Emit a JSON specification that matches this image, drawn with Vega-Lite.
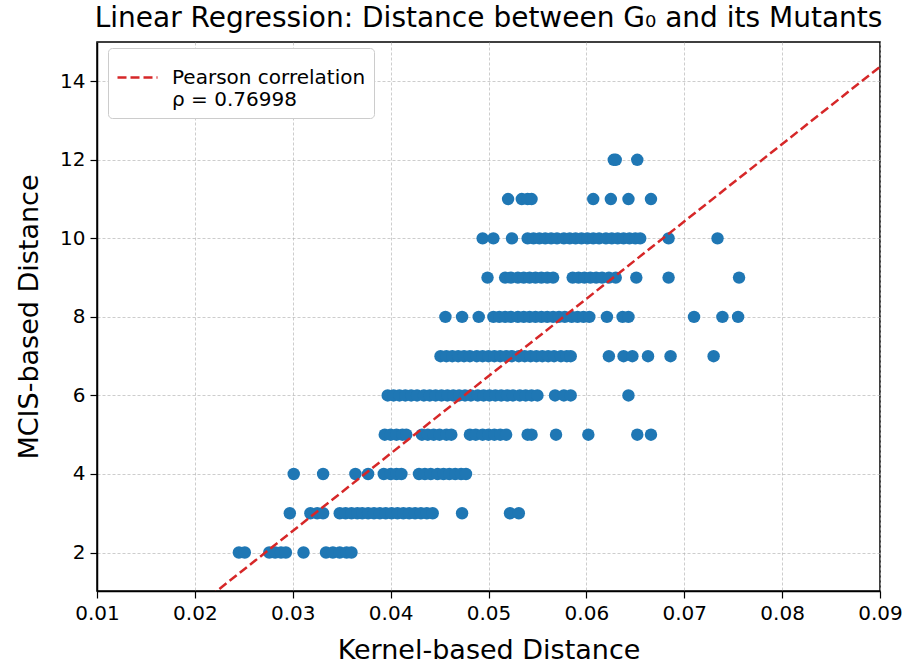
{
  "$schema": "https://vega.github.io/schema/vega-lite/v6.json",
  "width": 783,
  "height": 549,
  "autosize": {"type": "none"},
  "padding": {"left": 97, "top": 42, "right": 29, "bottom": 74},
  "background": "white",
  "title": {"text": "Linear Regression: Distance between G₀ and its Mutants", "font": "DejaVu Sans", "fontSize": 28, "fontWeight": "normal", "color": "black", "offset": 9},
  "config": {
    "view": {"stroke": "black", "strokeWidth": 1.5},
    "axis": {"labelFont": "DejaVu Sans", "labelFontSize": 20, "labelColor": "black", "labelFlush": false, "labelOverlap": false, "labelPadding": 5, "titleFont": "DejaVu Sans", "titleFontSize": 27, "titleFontWeight": "normal", "titleColor": "black", "domainColor": "black", "domainWidth": 1.5, "tickColor": "black", "tickSize": 7, "tickWidth": 1.2, "gridColor": "#b0b0b0", "gridDash": [3, 2], "gridWidth": 0.8, "gridOpacity": 0.8}
  },
  "datasets": {
    "points": [
      {"kernel": 0.0245, "mcis": 2}, {"kernel": 0.0251, "mcis": 2}, {"kernel": 0.0276, "mcis": 2}, {"kernel": 0.0282, "mcis": 2}, {"kernel": 0.0288, "mcis": 2}, {"kernel": 0.0293, "mcis": 2}, {"kernel": 0.0311, "mcis": 2}, {"kernel": 0.0334, "mcis": 2}, {"kernel": 0.0341, "mcis": 2}, {"kernel": 0.0348, "mcis": 2}, {"kernel": 0.0355, "mcis": 2}, {"kernel": 0.0360, "mcis": 2},
      {"kernel": 0.0297, "mcis": 3}, {"kernel": 0.0318, "mcis": 3}, {"kernel": 0.0325, "mcis": 3}, {"kernel": 0.0331, "mcis": 3}, {"kernel": 0.0348, "mcis": 3}, {"kernel": 0.0354, "mcis": 3}, {"kernel": 0.0360, "mcis": 3}, {"kernel": 0.0366, "mcis": 3}, {"kernel": 0.0371, "mcis": 3}, {"kernel": 0.0377, "mcis": 3}, {"kernel": 0.0383, "mcis": 3}, {"kernel": 0.0389, "mcis": 3}, {"kernel": 0.0395, "mcis": 3}, {"kernel": 0.0401, "mcis": 3}, {"kernel": 0.0407, "mcis": 3}, {"kernel": 0.0413, "mcis": 3}, {"kernel": 0.0419, "mcis": 3}, {"kernel": 0.0425, "mcis": 3}, {"kernel": 0.0431, "mcis": 3}, {"kernel": 0.0437, "mcis": 3}, {"kernel": 0.0443, "mcis": 3}, {"kernel": 0.0473, "mcis": 3}, {"kernel": 0.0522, "mcis": 3}, {"kernel": 0.0531, "mcis": 3},
      {"kernel": 0.0301, "mcis": 4}, {"kernel": 0.0331, "mcis": 4}, {"kernel": 0.0364, "mcis": 4}, {"kernel": 0.0377, "mcis": 4}, {"kernel": 0.0393, "mcis": 4}, {"kernel": 0.0400, "mcis": 4}, {"kernel": 0.0406, "mcis": 4}, {"kernel": 0.0411, "mcis": 4}, {"kernel": 0.0429, "mcis": 4}, {"kernel": 0.0435, "mcis": 4}, {"kernel": 0.0441, "mcis": 4}, {"kernel": 0.0448, "mcis": 4}, {"kernel": 0.0454, "mcis": 4}, {"kernel": 0.0460, "mcis": 4}, {"kernel": 0.0466, "mcis": 4}, {"kernel": 0.0472, "mcis": 4}, {"kernel": 0.0477, "mcis": 4},
      {"kernel": 0.0394, "mcis": 5}, {"kernel": 0.0400, "mcis": 5}, {"kernel": 0.0406, "mcis": 5}, {"kernel": 0.0412, "mcis": 5}, {"kernel": 0.0416, "mcis": 5}, {"kernel": 0.0432, "mcis": 5}, {"kernel": 0.0438, "mcis": 5}, {"kernel": 0.0444, "mcis": 5}, {"kernel": 0.0450, "mcis": 5}, {"kernel": 0.0457, "mcis": 5}, {"kernel": 0.0462, "mcis": 5}, {"kernel": 0.0481, "mcis": 5}, {"kernel": 0.0487, "mcis": 5}, {"kernel": 0.0494, "mcis": 5}, {"kernel": 0.0500, "mcis": 5}, {"kernel": 0.0506, "mcis": 5}, {"kernel": 0.0512, "mcis": 5}, {"kernel": 0.0518, "mcis": 5}, {"kernel": 0.0540, "mcis": 5}, {"kernel": 0.0544, "mcis": 5}, {"kernel": 0.0569, "mcis": 5}, {"kernel": 0.0602, "mcis": 5}, {"kernel": 0.0652, "mcis": 5}, {"kernel": 0.0666, "mcis": 5},
      {"kernel": 0.0397, "mcis": 6}, {"kernel": 0.0403, "mcis": 6}, {"kernel": 0.0409, "mcis": 6}, {"kernel": 0.0415, "mcis": 6}, {"kernel": 0.0421, "mcis": 6}, {"kernel": 0.0427, "mcis": 6}, {"kernel": 0.0434, "mcis": 6}, {"kernel": 0.0440, "mcis": 6}, {"kernel": 0.0446, "mcis": 6}, {"kernel": 0.0452, "mcis": 6}, {"kernel": 0.0458, "mcis": 6}, {"kernel": 0.0464, "mcis": 6}, {"kernel": 0.0470, "mcis": 6}, {"kernel": 0.0476, "mcis": 6}, {"kernel": 0.0482, "mcis": 6}, {"kernel": 0.0489, "mcis": 6}, {"kernel": 0.0495, "mcis": 6}, {"kernel": 0.0501, "mcis": 6}, {"kernel": 0.0507, "mcis": 6}, {"kernel": 0.0513, "mcis": 6}, {"kernel": 0.0519, "mcis": 6}, {"kernel": 0.0525, "mcis": 6}, {"kernel": 0.0532, "mcis": 6}, {"kernel": 0.0538, "mcis": 6}, {"kernel": 0.0544, "mcis": 6}, {"kernel": 0.0550, "mcis": 6}, {"kernel": 0.0568, "mcis": 6}, {"kernel": 0.0577, "mcis": 6}, {"kernel": 0.0584, "mcis": 6}, {"kernel": 0.0643, "mcis": 6},
      {"kernel": 0.0451, "mcis": 7}, {"kernel": 0.0457, "mcis": 7}, {"kernel": 0.0463, "mcis": 7}, {"kernel": 0.0469, "mcis": 7}, {"kernel": 0.0475, "mcis": 7}, {"kernel": 0.0481, "mcis": 7}, {"kernel": 0.0488, "mcis": 7}, {"kernel": 0.0494, "mcis": 7}, {"kernel": 0.0500, "mcis": 7}, {"kernel": 0.0506, "mcis": 7}, {"kernel": 0.0512, "mcis": 7}, {"kernel": 0.0518, "mcis": 7}, {"kernel": 0.0524, "mcis": 7}, {"kernel": 0.0531, "mcis": 7}, {"kernel": 0.0537, "mcis": 7}, {"kernel": 0.0543, "mcis": 7}, {"kernel": 0.0549, "mcis": 7}, {"kernel": 0.0555, "mcis": 7}, {"kernel": 0.0561, "mcis": 7}, {"kernel": 0.0567, "mcis": 7}, {"kernel": 0.0574, "mcis": 7}, {"kernel": 0.0580, "mcis": 7}, {"kernel": 0.0584, "mcis": 7}, {"kernel": 0.0623, "mcis": 7}, {"kernel": 0.0638, "mcis": 7}, {"kernel": 0.0647, "mcis": 7}, {"kernel": 0.0663, "mcis": 7}, {"kernel": 0.0686, "mcis": 7}, {"kernel": 0.0730, "mcis": 7},
      {"kernel": 0.0456, "mcis": 8}, {"kernel": 0.0473, "mcis": 8}, {"kernel": 0.0490, "mcis": 8}, {"kernel": 0.0505, "mcis": 8}, {"kernel": 0.0511, "mcis": 8}, {"kernel": 0.0517, "mcis": 8}, {"kernel": 0.0523, "mcis": 8}, {"kernel": 0.0530, "mcis": 8}, {"kernel": 0.0536, "mcis": 8}, {"kernel": 0.0542, "mcis": 8}, {"kernel": 0.0548, "mcis": 8}, {"kernel": 0.0554, "mcis": 8}, {"kernel": 0.0560, "mcis": 8}, {"kernel": 0.0566, "mcis": 8}, {"kernel": 0.0572, "mcis": 8}, {"kernel": 0.0578, "mcis": 8}, {"kernel": 0.0585, "mcis": 8}, {"kernel": 0.0591, "mcis": 8}, {"kernel": 0.0597, "mcis": 8}, {"kernel": 0.0603, "mcis": 8}, {"kernel": 0.0621, "mcis": 8}, {"kernel": 0.0637, "mcis": 8}, {"kernel": 0.0643, "mcis": 8}, {"kernel": 0.0710, "mcis": 8}, {"kernel": 0.0739, "mcis": 8}, {"kernel": 0.0755, "mcis": 8},
      {"kernel": 0.0499, "mcis": 9}, {"kernel": 0.0517, "mcis": 9}, {"kernel": 0.0523, "mcis": 9}, {"kernel": 0.0530, "mcis": 9}, {"kernel": 0.0536, "mcis": 9}, {"kernel": 0.0542, "mcis": 9}, {"kernel": 0.0548, "mcis": 9}, {"kernel": 0.0554, "mcis": 9}, {"kernel": 0.0560, "mcis": 9}, {"kernel": 0.0566, "mcis": 9}, {"kernel": 0.0586, "mcis": 9}, {"kernel": 0.0592, "mcis": 9}, {"kernel": 0.0598, "mcis": 9}, {"kernel": 0.0604, "mcis": 9}, {"kernel": 0.0610, "mcis": 9}, {"kernel": 0.0616, "mcis": 9}, {"kernel": 0.0623, "mcis": 9}, {"kernel": 0.0630, "mcis": 9}, {"kernel": 0.0651, "mcis": 9}, {"kernel": 0.0684, "mcis": 9}, {"kernel": 0.0756, "mcis": 9},
      {"kernel": 0.0494, "mcis": 10}, {"kernel": 0.0505, "mcis": 10}, {"kernel": 0.0524, "mcis": 10}, {"kernel": 0.0540, "mcis": 10}, {"kernel": 0.0546, "mcis": 10}, {"kernel": 0.0552, "mcis": 10}, {"kernel": 0.0558, "mcis": 10}, {"kernel": 0.0564, "mcis": 10}, {"kernel": 0.0570, "mcis": 10}, {"kernel": 0.0577, "mcis": 10}, {"kernel": 0.0583, "mcis": 10}, {"kernel": 0.0589, "mcis": 10}, {"kernel": 0.0595, "mcis": 10}, {"kernel": 0.0601, "mcis": 10}, {"kernel": 0.0607, "mcis": 10}, {"kernel": 0.0613, "mcis": 10}, {"kernel": 0.0620, "mcis": 10}, {"kernel": 0.0626, "mcis": 10}, {"kernel": 0.0632, "mcis": 10}, {"kernel": 0.0638, "mcis": 10}, {"kernel": 0.0644, "mcis": 10}, {"kernel": 0.0650, "mcis": 10}, {"kernel": 0.0655, "mcis": 10}, {"kernel": 0.0684, "mcis": 10}, {"kernel": 0.0734, "mcis": 10},
      {"kernel": 0.0520, "mcis": 11}, {"kernel": 0.0534, "mcis": 11}, {"kernel": 0.0540, "mcis": 11}, {"kernel": 0.0544, "mcis": 11}, {"kernel": 0.0607, "mcis": 11}, {"kernel": 0.0625, "mcis": 11}, {"kernel": 0.0643, "mcis": 11}, {"kernel": 0.0666, "mcis": 11},
      {"kernel": 0.0628, "mcis": 12}, {"kernel": 0.0630, "mcis": 12}, {"kernel": 0.0652, "mcis": 12}
    ],
    "fit": [
      {"kernel": 0.01, "mcis": -1.39, "series": "Pearson correlation"},
      {"kernel": 0.09, "mcis": 14.37, "series": "Pearson correlation"}
    ]
  },
  "layer": [
    {
      "data": {"name": "points"},
      "mark": {"type": "circle", "size": 155, "opacity": 1, "color": "#1f77b4"},
      "encoding": {
        "x": {"field": "kernel", "type": "quantitative", "scale": {"domain": [0.01, 0.09], "nice": false, "zero": false}, "axis": {"values": [0.01, 0.02, 0.03, 0.04, 0.05, 0.06, 0.07, 0.08, 0.09], "format": ".2f", "title": "Kernel-based Distance", "titlePadding": 14}},
        "y": {"field": "mcis", "type": "quantitative", "scale": {"domain": [1.02, 15.0], "nice": false, "zero": false}, "axis": {"values": [2, 4, 6, 8, 10, 12, 14], "format": "d", "title": "MCIS-based Distance", "titlePadding": 16}}
      }
    },
    {
      "data": {"name": "fit"},
      "mark": {"type": "line", "strokeDash": [9, 4], "strokeWidth": 2.5, "clip": true},
      "encoding": {
        "x": {"field": "kernel", "type": "quantitative"},
        "y": {"field": "mcis", "type": "quantitative"},
        "color": {"field": "series", "type": "nominal", "scale": {"range": ["#d62728"]}, "legend": {"title": null, "orient": "none", "legendX": 11, "legendY": 6, "symbolType": "stroke", "symbolSize": 1600, "symbolStrokeWidth": 2.5, "symbolDash": [9, 4], "labelFont": "DejaVu Sans", "labelFontSize": 20, "labelColor": "black", "labelExpr": "['Pearson correlation', 'ρ = 0.76998']", "labelLimit": 400, "labelOffset": 13, "padding": 8, "strokeColor": "#cccccc", "fillColor": "white", "cornerRadius": 4}}
      }
    }
  ]
}
